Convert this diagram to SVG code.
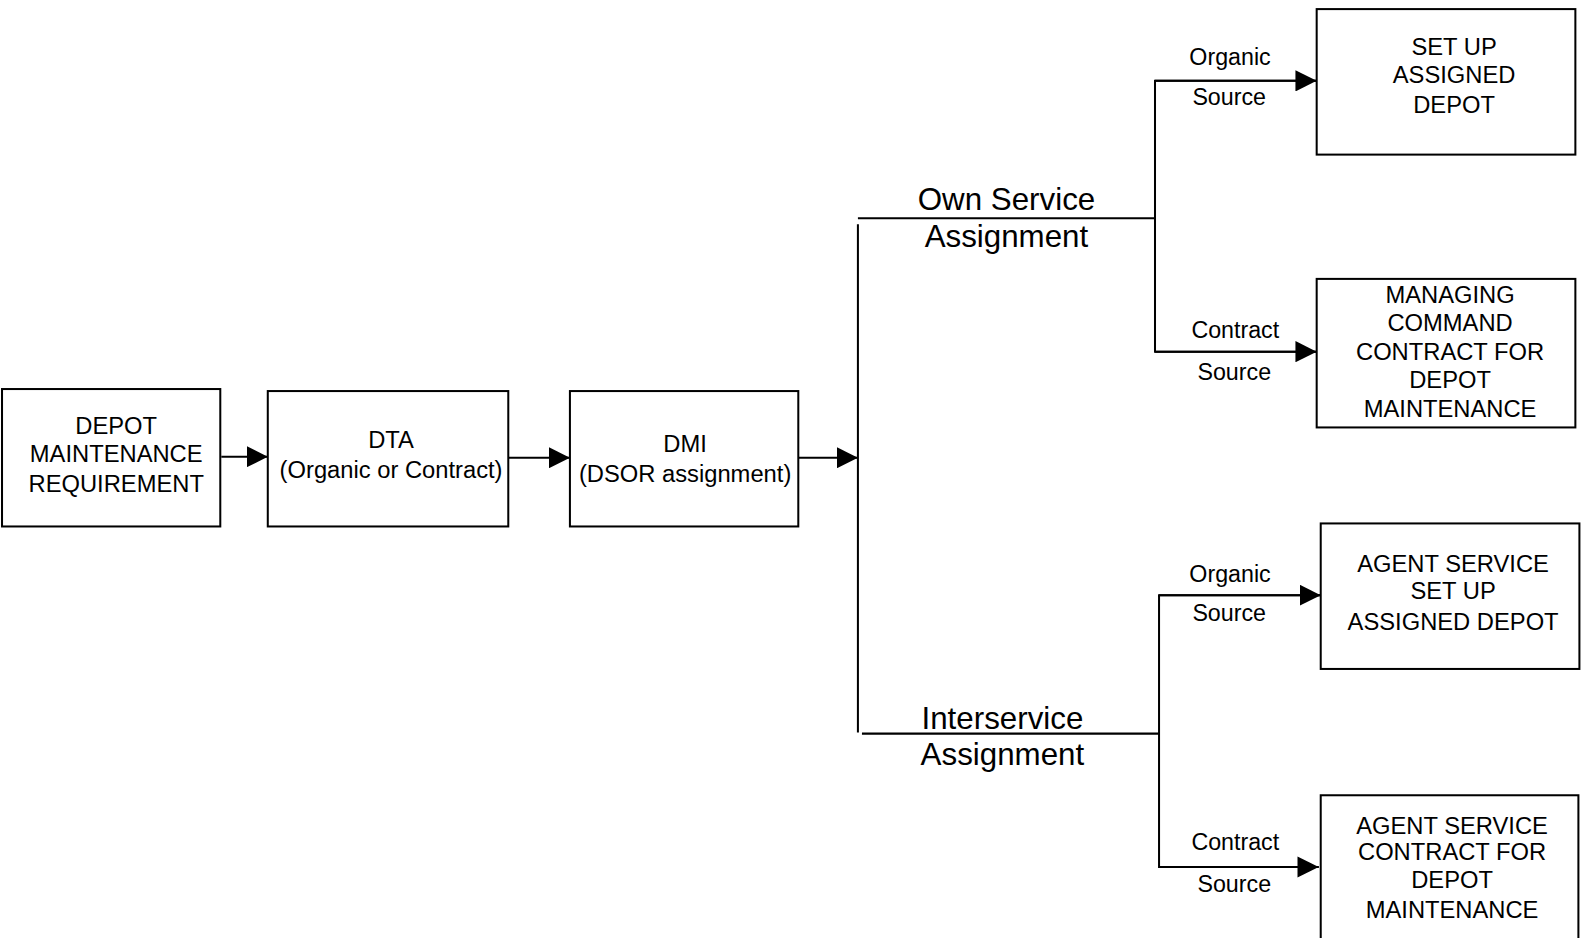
<svg xmlns="http://www.w3.org/2000/svg" width="1583" height="938" viewBox="0 0 1583 938">
<style>
.box{fill:#fff;stroke:#000;stroke-width:2}
.ln{fill:none;stroke:#000;stroke-width:2}
text{font-family:"Liberation Sans",Arial,sans-serif;fill:#000}
.t{font-size:23.5px;text-anchor:middle}
.lbl{font-size:23px}
.big{font-size:31px;text-anchor:middle}
</style>
<defs>
<marker id="ah" viewBox="0 0 21 21" refX="21" refY="10.5" markerWidth="21" markerHeight="21" markerUnits="userSpaceOnUse" orient="auto">
<path d="M0,0 L21,10.5 L0,21 z" fill="#000"/>
</marker>
</defs>
<rect width="1583" height="938" fill="#fff"/>
<g transform="scale(1.0105)">
<g id="connectors">
<line class="ln" x1="219" y1="452" x2="265" y2="452" marker-end="url(#ah)"/>
<line class="ln" x1="503" y1="453" x2="564" y2="453" marker-end="url(#ah)"/>
<line class="ln" x1="790" y1="453" x2="849" y2="453" marker-end="url(#ah)"/>
<line class="ln" x1="849" y1="222" x2="849" y2="725"/>
<line class="ln" x1="849" y1="216" x2="1143" y2="216"/>
<line class="ln" x1="853" y1="726" x2="1147" y2="726"/>
<polyline class="ln" points="1303,80 1143,80 1143,348 1303,348"/>
<line class="ln" x1="1143" y1="80" x2="1303" y2="80" marker-end="url(#ah)"/>
<line class="ln" x1="1143" y1="348" x2="1303" y2="348" marker-end="url(#ah)"/>
<polyline class="ln" points="1307,589 1147,589 1147,858 1305,858"/>
<line class="ln" x1="1147" y1="589" x2="1307" y2="589" marker-end="url(#ah)"/>
<line class="ln" x1="1147" y1="858" x2="1305" y2="858" marker-end="url(#ah)"/>
</g>
<g id="labels">
<text class="big" x="996" y="208">Own Service</text>
<text class="big" x="996" y="244">Assignment</text>
<text class="big" x="992" y="721">Interservice</text>
<text class="big" x="992" y="757">Assignment</text>
<text class="lbl" x="1177" y="64">Organic</text>
<text class="lbl" x="1180" y="104">Source</text>
<text class="lbl" x="1179" y="334">Contract</text>
<text class="lbl" x="1185" y="376">Source</text>
<text class="lbl" x="1177" y="576">Organic</text>
<text class="lbl" x="1180" y="615">Source</text>
<text class="lbl" x="1179" y="841">Contract</text>
<text class="lbl" x="1185" y="883">Source</text>
</g>
<g id="n-req">
<rect class="box" x="2" y="385" width="216" height="136"/>
<text class="t" x="115" y="429">DEPOT</text>
<text class="t" x="115" y="457">MAINTENANCE</text>
<text class="t" x="115" y="487">REQUIREMENT</text>
</g>
<g id="n-dta">
<rect class="box" x="265" y="387" width="238" height="134"/>
<text class="t" x="387" y="443">DTA</text>
<text class="t" x="387" y="473">(Organic or Contract)</text>
</g>
<g id="n-dmi">
<rect class="box" x="564" y="387" width="226" height="134"/>
<text class="t" x="678" y="447">DMI</text>
<text class="t" x="678" y="477">(DSOR assignment)</text>
</g>
<g id="n-setup">
<rect class="box" x="1303" y="9" width="256" height="144"/>
<text class="t" x="1439" y="54">SET UP</text>
<text class="t" x="1439" y="82">ASSIGNED</text>
<text class="t" x="1439" y="112">DEPOT</text>
</g>
<g id="n-managing">
<rect class="box" x="1303" y="276" width="256" height="147"/>
<text class="t" x="1435" y="300">MANAGING</text>
<text class="t" x="1435" y="328">COMMAND</text>
<text class="t" x="1435" y="356">CONTRACT FOR</text>
<text class="t" x="1435" y="384">DEPOT</text>
<text class="t" x="1435" y="413">MAINTENANCE</text>
</g>
<g id="n-agent-setup">
<rect class="box" x="1307" y="518" width="256" height="144"/>
<text class="t" x="1438" y="566">AGENT SERVICE</text>
<text class="t" x="1438" y="593">SET UP</text>
<text class="t" x="1438" y="623">ASSIGNED DEPOT</text>
</g>
<g id="n-agent-contract">
<rect class="box" x="1307" y="787" width="255" height="170"/>
<text class="t" x="1437" y="825">AGENT SERVICE</text>
<text class="t" x="1437" y="851">CONTRACT FOR</text>
<text class="t" x="1437" y="879">DEPOT</text>
<text class="t" x="1437" y="908">MAINTENANCE</text>
</g>
</g>
</svg>
